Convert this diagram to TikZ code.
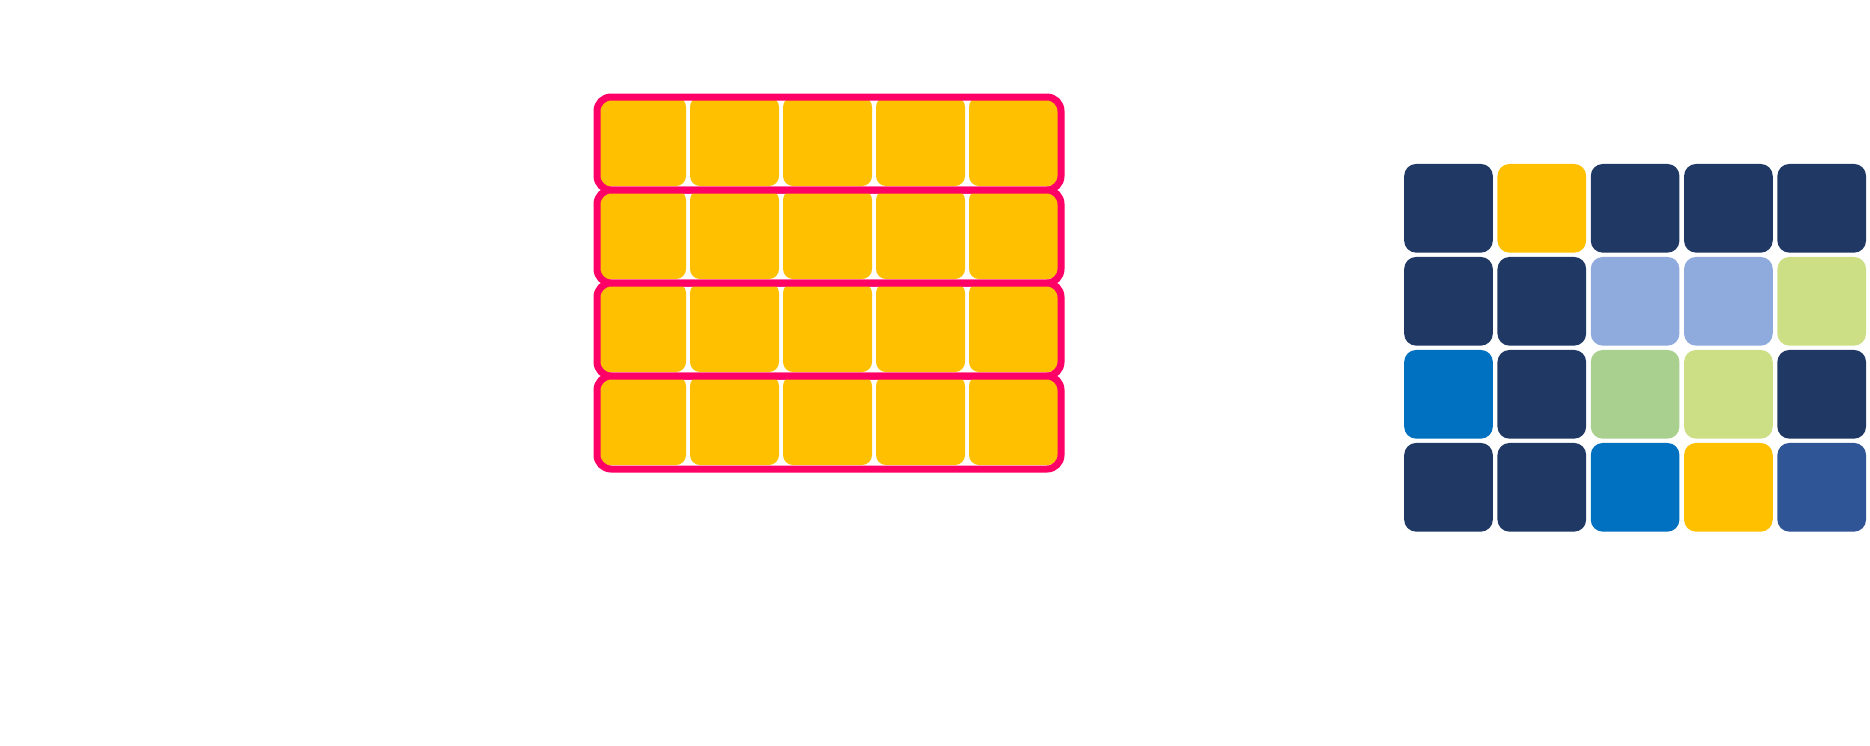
\documentclass[tikz,border=0pt]{standalone}
\definecolor{navy}{HTML}{203864}
\definecolor{gold}{HTML}{FFC000}
\definecolor{skyish}{HTML}{8FAADC}
\definecolor{lime}{HTML}{CCDF85}
\definecolor{sage}{HTML}{A9D08E}
\definecolor{ocean}{HTML}{0070C0}
\definecolor{steel}{HTML}{2F5597}
\definecolor{hotpink}{HTML}{FF0066}
\tikzset{
  cell/.style={rectangle, rounded corners=5pt, inner sep=0pt, minimum width=44.5pt, minimum height=44.5pt, fill=gold},
  tile/.style={rectangle, rounded corners=6pt, inner sep=0pt, minimum width=44.35pt, minimum height=44.35pt},
  band/.style={rectangle, draw=hotpink, line width=3.5pt, rounded corners=7pt, inner sep=0pt, minimum width=232pt, minimum height=46.5pt}
}
\begin{document}
\begin{tikzpicture}[x=0.5pt, y=-0.5pt]
    \useasboundingbox (0,0) rectangle (1870,745);
    % left block: four framed rows of five cells
    \foreach \j in {0,...,3}{
        \foreach \i in {0,...,4}
            \node[cell] (l-\j-\i) at ({641.5+93*\i},{141.5+93*\j}) {};
        \node[band] (band\j) at (829,{143.5+93*\j}) {};
    }
    % right block: coloured tiles
    \foreach \c [count=\n from 0] in {navy,gold,navy,navy,navy,
                                      navy,navy,skyish,skyish,lime,
                                      ocean,navy,sage,lime,navy,
                                      navy,navy,ocean,gold,steel}{
        \pgfmathtruncatemacro\rj{int(\n/5)}
        \pgfmathtruncatemacro\ri{mod(\n,5)}
        \node[tile, fill=\c] (r-\rj-\ri) at ({1448.5+93.3*\ri},{208.3+93*\rj}) {};
    }
\end{tikzpicture}
\end{document}
